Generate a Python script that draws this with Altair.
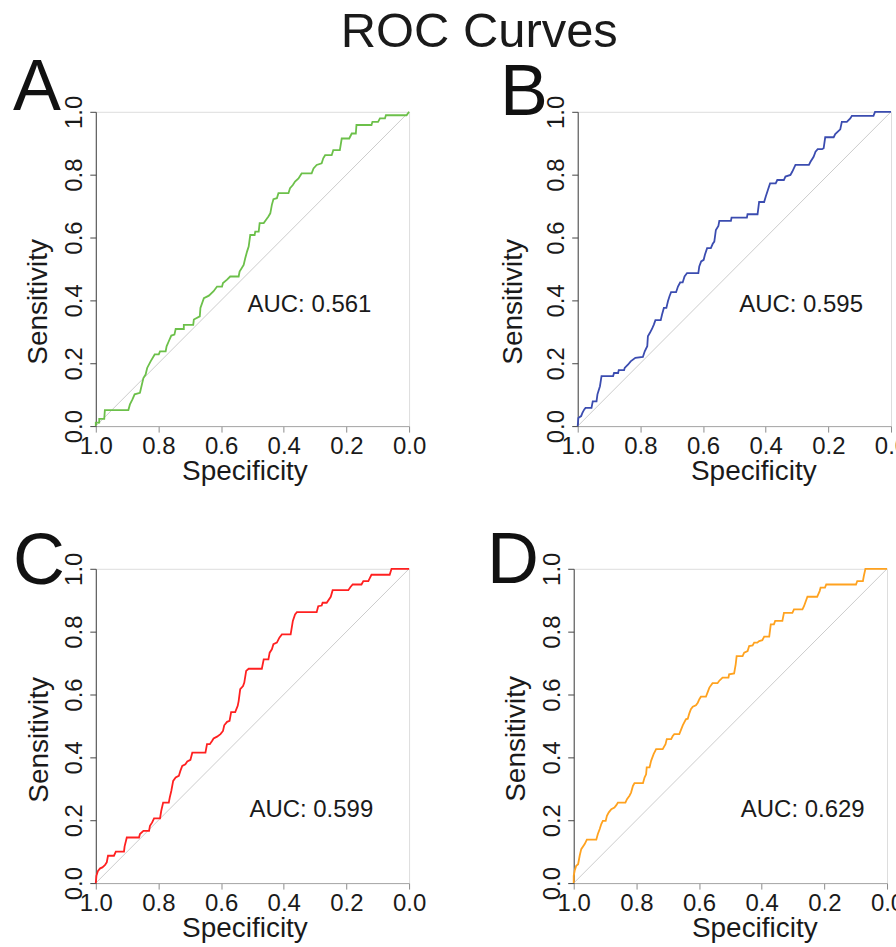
import altair as alt
import pandas as pd

FONT = "Liberation Sans"
TICKS = [0.0, 0.2, 0.4, 0.6, 0.8, 1.0]

# Panel A - ROC curve vertices (specificity, sensitivity)
a_spec = [1.000, 1.000, 0.989, 0.989, 0.973, 0.971, 0.896, 0.891, 0.883, 0.876,
          0.859, 0.848, 0.841, 0.836, 0.825, 0.812, 0.799, 0.795, 0.777, 0.774,
          0.767, 0.759, 0.749, 0.745, 0.719, 0.719, 0.689, 0.687, 0.668, 0.666,
          0.655, 0.639, 0.624, 0.613, 0.597, 0.594, 0.581, 0.571, 0.544, 0.541,
          0.528, 0.523, 0.517, 0.512, 0.507, 0.493, 0.491, 0.480, 0.477, 0.464,
          0.457, 0.449, 0.443, 0.438, 0.433, 0.422, 0.417, 0.385, 0.380, 0.371,
          0.364, 0.353, 0.343, 0.311, 0.305, 0.295, 0.279, 0.274, 0.268, 0.247,
          0.242, 0.221, 0.215, 0.191, 0.183, 0.170, 0.168, 0.120, 0.117, 0.099,
          0.093, 0.077, 0.074, 0.008, 0.000]
a_sens = [0.000, 0.011, 0.011, 0.023, 0.023, 0.051, 0.051, 0.069, 0.085, 0.101,
          0.106, 0.153, 0.164, 0.185, 0.206, 0.228, 0.228, 0.238, 0.238, 0.254,
          0.270, 0.288, 0.291, 0.309, 0.309, 0.322, 0.322, 0.339, 0.349, 0.376,
          0.407, 0.415, 0.429, 0.444, 0.444, 0.455, 0.466, 0.476, 0.476, 0.492,
          0.513, 0.534, 0.556, 0.571, 0.608, 0.608, 0.619, 0.619, 0.646, 0.646,
          0.656, 0.667, 0.677, 0.704, 0.722, 0.725, 0.741, 0.741, 0.757, 0.767,
          0.778, 0.788, 0.804, 0.804, 0.820, 0.831, 0.836, 0.852, 0.862, 0.862,
          0.878, 0.878, 0.915, 0.915, 0.931, 0.931, 0.958, 0.958, 0.968, 0.968,
          0.979, 0.979, 0.989, 0.989, 1.000]

# Panel B
b_spec = [1.000, 0.998, 0.989, 0.985, 0.979, 0.975, 0.956, 0.952, 0.940, 0.937,
          0.929, 0.924, 0.887, 0.884, 0.871, 0.869, 0.852, 0.850, 0.839, 0.831,
          0.816, 0.792, 0.786, 0.778, 0.776, 0.770, 0.763, 0.757, 0.752, 0.735,
          0.731, 0.725, 0.717, 0.712, 0.707, 0.702, 0.686, 0.680, 0.673, 0.665,
          0.659, 0.651, 0.615, 0.612, 0.606, 0.598, 0.594, 0.587, 0.575, 0.569,
          0.564, 0.559, 0.551, 0.548, 0.511, 0.509, 0.460, 0.458, 0.426, 0.421,
          0.405, 0.400, 0.393, 0.386, 0.368, 0.363, 0.342, 0.337, 0.321, 0.315,
          0.305, 0.262, 0.257, 0.247, 0.241, 0.234, 0.220, 0.215, 0.210, 0.183,
          0.178, 0.162, 0.157, 0.141, 0.130, 0.125, 0.056, 0.051, 0.000]
b_sens = [0.000, 0.026, 0.032, 0.042, 0.053, 0.058, 0.058, 0.079, 0.079, 0.101,
          0.127, 0.159, 0.159, 0.169, 0.169, 0.178, 0.178, 0.185, 0.196, 0.206,
          0.217, 0.220, 0.238, 0.254, 0.286, 0.296, 0.309, 0.323, 0.337, 0.337,
          0.354, 0.376, 0.376, 0.397, 0.413, 0.426, 0.426, 0.444, 0.457, 0.457,
          0.476, 0.487, 0.487, 0.508, 0.524, 0.529, 0.545, 0.566, 0.566, 0.580,
          0.587, 0.624, 0.637, 0.653, 0.653, 0.663, 0.663, 0.674, 0.674, 0.713,
          0.713, 0.730, 0.751, 0.772, 0.772, 0.783, 0.783, 0.794, 0.799, 0.810,
          0.831, 0.831, 0.841, 0.857, 0.873, 0.881, 0.881, 0.884, 0.919, 0.919,
          0.929, 0.944, 0.968, 0.968, 0.979, 0.987, 0.987, 1.000, 1.000]

# Panel C
c_spec = [1.000, 0.998, 0.993, 0.986, 0.979, 0.971, 0.965, 0.961, 0.942, 0.936,
          0.910, 0.908, 0.901, 0.862, 0.859, 0.848, 0.830, 0.827, 0.820, 0.814,
          0.795, 0.791, 0.785, 0.767, 0.764, 0.759, 0.753, 0.745, 0.735, 0.730,
          0.724, 0.714, 0.708, 0.698, 0.692, 0.650, 0.645, 0.636, 0.629, 0.624,
          0.613, 0.602, 0.594, 0.590, 0.581, 0.573, 0.568, 0.555, 0.547, 0.544,
          0.539, 0.530, 0.526, 0.520, 0.512, 0.470, 0.464, 0.449, 0.445, 0.438,
          0.433, 0.422, 0.414, 0.406, 0.378, 0.371, 0.364, 0.358, 0.295, 0.290,
          0.279, 0.276, 0.263, 0.250, 0.244, 0.194, 0.187, 0.180, 0.152, 0.146,
          0.130, 0.125, 0.120, 0.062, 0.056, 0.000]
c_sens = [0.000, 0.023, 0.039, 0.047, 0.050, 0.057, 0.066, 0.087, 0.087, 0.100,
          0.100, 0.117, 0.145, 0.145, 0.156, 0.166, 0.166, 0.182, 0.193, 0.206,
          0.206, 0.230, 0.256, 0.256, 0.272, 0.293, 0.325, 0.336, 0.341, 0.357,
          0.373, 0.378, 0.387, 0.392, 0.415, 0.415, 0.442, 0.442, 0.452, 0.460,
          0.466, 0.474, 0.484, 0.502, 0.513, 0.516, 0.544, 0.544, 0.564, 0.579,
          0.617, 0.627, 0.638, 0.675, 0.682, 0.682, 0.712, 0.712, 0.733, 0.744,
          0.760, 0.765, 0.781, 0.791, 0.791, 0.834, 0.855, 0.862, 0.862, 0.881,
          0.883, 0.892, 0.892, 0.911, 0.932, 0.932, 0.942, 0.950, 0.950, 0.961,
          0.961, 0.971, 0.981, 0.981, 1.000, 1.000]

# Panel D
d_spec = [1.000, 1.000, 0.997, 0.992, 0.986, 0.981, 0.976, 0.965, 0.958, 0.928,
          0.923, 0.917, 0.912, 0.907, 0.898, 0.894, 0.888, 0.880, 0.870, 0.864,
          0.859, 0.835, 0.830, 0.822, 0.817, 0.811, 0.806, 0.779, 0.774, 0.769,
          0.767, 0.758, 0.753, 0.745, 0.737, 0.716, 0.707, 0.703, 0.689, 0.684,
          0.679, 0.663, 0.657, 0.652, 0.642, 0.636, 0.631, 0.626, 0.620, 0.610,
          0.604, 0.599, 0.594, 0.578, 0.573, 0.567, 0.557, 0.541, 0.536, 0.525,
          0.506, 0.504, 0.488, 0.483, 0.480, 0.461, 0.456, 0.445, 0.440, 0.429,
          0.424, 0.414, 0.408, 0.398, 0.392, 0.376, 0.371, 0.361, 0.357, 0.334,
          0.329, 0.302, 0.297, 0.270, 0.265, 0.254, 0.223, 0.215, 0.212, 0.198,
          0.194, 0.099, 0.095, 0.077, 0.074, 0.069, 0.000]
d_sens = [0.000, 0.023, 0.039, 0.055, 0.060, 0.087, 0.108, 0.124, 0.138, 0.138,
          0.156, 0.172, 0.188, 0.198, 0.198, 0.214, 0.225, 0.235, 0.240, 0.248,
          0.256, 0.256, 0.267, 0.278, 0.288, 0.309, 0.318, 0.318, 0.336, 0.346,
          0.368, 0.368, 0.389, 0.410, 0.426, 0.426, 0.442, 0.458, 0.458, 0.468,
          0.474, 0.474, 0.489, 0.502, 0.521, 0.523, 0.540, 0.553, 0.561, 0.566,
          0.574, 0.585, 0.593, 0.593, 0.606, 0.622, 0.636, 0.636, 0.643, 0.654,
          0.654, 0.664, 0.667, 0.696, 0.722, 0.722, 0.733, 0.738, 0.754, 0.756,
          0.765, 0.765, 0.770, 0.773, 0.784, 0.784, 0.823, 0.823, 0.834, 0.834,
          0.860, 0.860, 0.871, 0.871, 0.881, 0.911, 0.911, 0.929, 0.940, 0.940,
          0.950, 0.950, 0.961, 0.961, 0.977, 1.000, 1.000]

auc_labels = ["AUC: 0.561", "AUC: 0.595", "AUC: 0.599", "AUC: 0.629"]
panel_tags = ["A", "B", "C", "D"]
curve_colors = ["#6cc04a", "#3b4cb0", "#ff2020", "#ffa21f"]


def roc_panel(tag, spec, sens, color, auc_text, auc_at, tag_at, ytitle_at, xtitle_x):
    assert len(spec) == len(sens)
    pts = pd.DataFrame({"spec": spec, "sens": sens, "k": range(len(spec))})

    x = alt.X(
        "spec:Q",
        scale=alt.Scale(domain=[0, 1], reverse=True, nice=False, zero=False),
        axis=alt.Axis(
            values=TICKS, format=".1f", grid=False,
            title="Specificity", titleFontSize=28, titleFontWeight="normal",
            titleColor="#1a1a1a", titleFont=FONT,
            titleX=xtitle_x, titleY=54, titleAlign="center",
            titleBaseline="alphabetic", titleAnchor="start",
            labelFontSize=24, labelColor="#1a1a1a", labelFont=FONT,
            labelPadding=2, labelFlush=False, labelOverlap=False,
            tickSize=6, tickColor="#8c8c8c", domainColor="#a8a8a8",
        ),
    )
    y = alt.Y(
        "sens:Q",
        scale=alt.Scale(domain=[0, 1], nice=False, zero=False),
        axis=alt.Axis(
            values=TICKS, format=".1f", grid=False,
            title="Sensitivity", titleFontSize=28, titleFontWeight="normal",
            titleColor="#1a1a1a", titleFont=FONT, titleAngle=270,
            titleX=ytitle_at[0], titleY=ytitle_at[1], titleAlign="center",
            titleBaseline="alphabetic", titleAnchor="start",
            labelFontSize=24, labelColor="#1a1a1a", labelFont=FONT,
            labelAngle=270, labelAlign="center", labelBaseline="bottom",
            labelPadding=3, labelFlush=False, labelOverlap=False,
            tickSize=6, tickColor="#444444", domainColor="#444444",
        ),
    )

    diagonal = alt.Chart(pd.DataFrame({"spec": [1.0, 0.0], "sens": [0.0, 1.0]})).mark_line(
        color="#cccccc", strokeWidth=1
    ).encode(x=x, y=y)

    curve = alt.Chart(pts).mark_line(color=color, strokeWidth=1.8).encode(
        x=x, y=y, order="k:Q"
    )

    auc = alt.Chart(
        pd.DataFrame({"spec": [auc_at[0]], "sens": [auc_at[1]], "label": [auc_text]})
    ).mark_text(
        fontSize=24, font=FONT, color="#1a1a1a", align="center", baseline="alphabetic"
    ).encode(x="spec:Q", y="sens:Q", text="label:N")

    letter = alt.Chart(pd.DataFrame({"tag": [tag]})).mark_text(
        fontSize=72, font=FONT, color="#111111", align="left", baseline="alphabetic"
    ).encode(x=alt.value(tag_at[0]), y=alt.value(tag_at[1]), text="tag:N")

    return alt.layer(diagonal, curve, auc, letter).properties(width=314, height=315)


pa = roc_panel(panel_tags[0], a_spec, a_sens, curve_colors[0], auc_labels[0],
               (0.318, 0.362), (-83, -2), (-49, 190), 149)
pb = roc_panel(panel_tags[1], b_spec, b_sens, curve_colors[1], auc_labels[1],
               (0.287, 0.362), (-78, 3), (-56, 190), 176)
pc = roc_panel(panel_tags[2], c_spec, c_sens, curve_colors[2], auc_labels[2],
               (0.312, 0.210), (-83, 15), (-48, 171), 149)
pd_ = roc_panel(panel_tags[3], d_spec, d_sens, curve_colors[3], auc_labels[3],
                (0.269, 0.210), (-87, 14), (-49, 170), 181)

chart = alt.vconcat(
    alt.hconcat(pa, pb, spacing=72),
    alt.hconcat(pc, pd_, spacing=59),
    spacing=37,
    title=alt.TitleParams(
        "ROC Curves", fontSize=49, fontWeight="normal", font=FONT,
        color="#1a1a1a", anchor="middle", offset=-6, dx=19,
    ),
).properties(
    # the last x tick label of the right-hand panels runs past the page edge
    padding={"left": 12, "top": 7, "right": -13, "bottom": 0}
).configure_view(
    stroke="#9a9a9a", strokeWidth=1
).configure(font=FONT, background="white")

chart.save("out.html", embed_options={"renderer": "svg", "actions": False})
